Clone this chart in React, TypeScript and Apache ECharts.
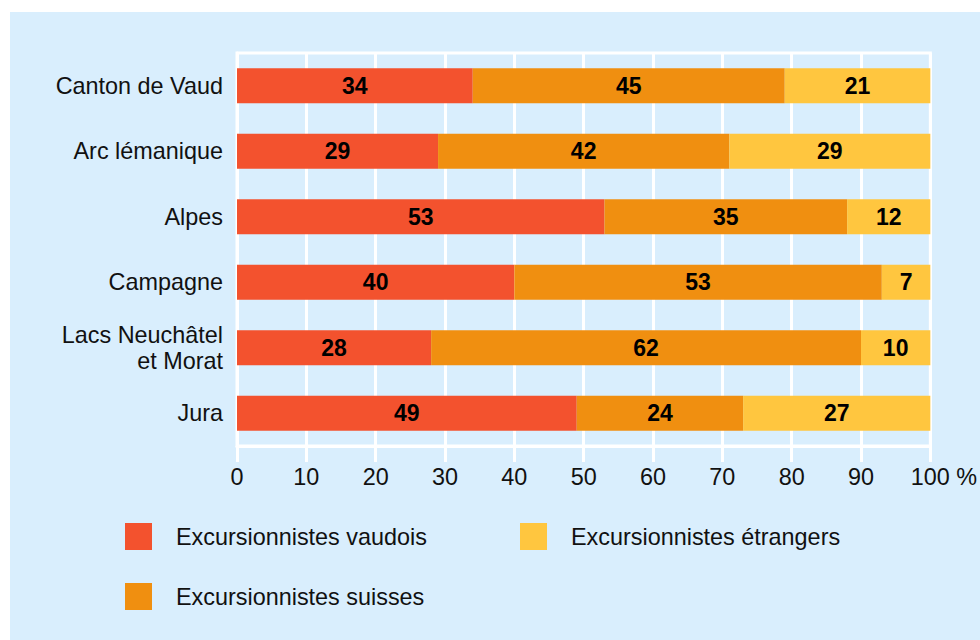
import React, { useEffect, useRef } from "react";
import * as echarts from "echarts";

const categories = [
  "Canton de Vaud",
  "Arc lémanique",
  "Alpes",
  "Campagne",
  "Lacs Neuchâtel\net Morat",
  "Jura",
];
const vaudois = [34, 29, 53, 40, 28, 49];
const suisses = [45, 42, 35, 53, 62, 24];
const etrangers = [21, 29, 12, 7, 10, 27];
const seriesNames = [
  "Excursionnistes vaudois",
  "Excursionnistes suisses",
  "Excursionnistes étrangers",
];
const colors = ["#f3522e", "#f08f10", "#ffc63f"];

const FONT = "Liberation Sans, Arial, sans-serif";
const FS = 23.4;

export default function App() {
  const ref = useRef<HTMLDivElement>(null);
  useEffect(() => {
    if (!ref.current) return;
    const chart = echarts.init(ref.current, null, { renderer: "svg" });
    const mkSeries = (name: string, data: number[], color: string) => ({
      name,
      type: "bar",
      stack: "total",
      data,
      barWidth: 35,
      itemStyle: { color },
      label: {
        show: true,
        position: "inside",
        color: "#000",
        fontSize: 23,
        fontWeight: "bold",
        fontFamily: FONT,
      },
    });
    const legendText = {
      fontSize: FS,
      color: "#111",
      fontFamily: FONT,
      padding: [0, 0, 0, 19],
    };
    chart.setOption({
      animation: false,
      backgroundColor: "#d9eefd",
      textStyle: { fontFamily: FONT },
      grid: {
        left: 227,
        right: 48,
        top: 41,
        bottom: 194,
        show: true,
        borderColor: "#ffffff",
        borderWidth: 3,
        backgroundColor: "transparent",
      },
      legend: [
        {
          data: [seriesNames[0], seriesNames[1]],
          orient: "vertical",
          left: 115,
          top: 511,
          padding: 0,
          itemWidth: 27,
          itemHeight: 27,
          itemGap: 33,
          icon: "rect",
          textStyle: legendText,
        },
        {
          data: [seriesNames[2]],
          orient: "vertical",
          left: 510,
          top: 511,
          padding: 0,
          itemWidth: 27,
          itemHeight: 27,
          itemGap: 33,
          icon: "rect",
          textStyle: legendText,
        },
      ],
      xAxis: {
        type: "value",
        min: 0,
        max: 100,
        interval: 10,
        axisLine: { show: true, lineStyle: { color: "#ffffff", width: 3 } },
        axisTick: { show: true, length: 16, lineStyle: { color: "#ffffff", width: 3 } },
        splitLine: { show: true, lineStyle: { color: "#ffffff", width: 3 } },
        axisLabel: {
          fontSize: FS,
          color: "#111",
          margin: 19,
          fontFamily: FONT,
          formatter: (v: number) => (v === 100 ? "{p|100 %}" : String(v)),
          rich: {
            p: {
              fontSize: FS,
              color: "#111",
              fontFamily: FONT,
              padding: [0, 0, 0, 27],
            },
          },
        },
      },
      yAxis: {
        type: "category",
        inverse: true,
        data: categories,
        axisLine: { show: true, lineStyle: { color: "#ffffff", width: 3 } },
        axisTick: { show: false },
        axisLabel: {
          fontSize: FS,
          color: "#111",
          margin: 14,
          lineHeight: 26,
          fontFamily: FONT,
        },
      },
      series: [
        mkSeries(seriesNames[0], vaudois, colors[0]),
        mkSeries(seriesNames[1], suisses, colors[1]),
        mkSeries(seriesNames[2], etrangers, colors[2]),
      ],
    });
    return () => chart.dispose();
  }, []);
  return (
    <div
      style={{
        position: "absolute",
        left: 0,
        top: 0,
        width: 980,
        height: 640,
        background: "#ffffff",
      }}
    >
      <div
        ref={ref}
        style={{ position: "absolute", left: 10, top: 12, width: 970, height: 628 }}
      />
    </div>
  );
}
